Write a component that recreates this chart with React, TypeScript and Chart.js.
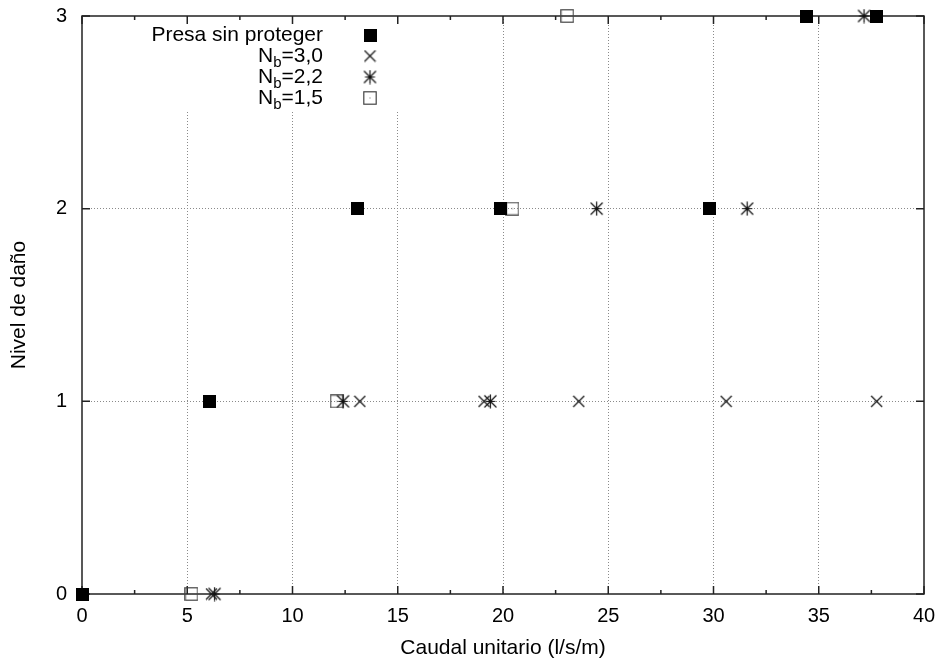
import React, { useEffect, useRef } from 'react';
import { Chart, registerables } from 'chart.js';

Chart.register(...registerables);

// ---- Data ----
const xTitle = 'Caudal unitario (l/s/m)';
const yTitle = 'Nivel de daño';
const xTickValues = [0, 5, 10, 15, 20, 25, 30, 35, 40];
const xMinorValues = [2.5, 7.5, 12.5, 17.5, 22.5, 27.5, 32.5, 37.5];
const yTickValues = [0, 1, 2, 3];

const seriesLabels = ['Presa sin proteger', 'N_b=3,0', 'N_b=2,2', 'N_b=1,5'];

const presaX = [0, 6.05, 13.1, 19.9, 29.8, 34.4, 37.75];
const presaY = [0, 1, 2, 2, 2, 3, 3];

const nb30X = [6.15, 13.2, 19.1, 23.6, 30.6, 37.75];
const nb30Y = [0, 1, 1, 1, 1, 1];

const nb22X = [6.3, 12.4, 19.4, 24.45, 31.6, 37.15];
const nb22Y = [0, 1, 1, 2, 2, 3];

const nb15X = [5.2, 12.1, 20.45, 23.05];
const nb15Y = [0, 1, 2, 3];

const FONT = "'Liberation Sans', Arial, Helvetica, sans-serif";

function makeCanvas(size: number, draw: (c: CanvasRenderingContext2D, s: number) => void) {
  const cv = document.createElement('canvas');
  cv.width = size;
  cv.height = size;
  const c = cv.getContext('2d')!;
  draw(c, size);
  return cv;
}

function makeStyles() {
  const filled = makeCanvas(13, (c, s) => {
    c.fillStyle = '#000';
    c.fillRect(0, 0, s, s);
  });
  const cross = makeCanvas(13, (c, s) => {
    c.strokeStyle = '#1a1a1a';
    c.lineWidth = 1.3;
    c.beginPath();
    c.moveTo(1, 1);
    c.lineTo(s - 1, s - 1);
    c.moveTo(s - 1, 1);
    c.lineTo(1, s - 1);
    c.stroke();
  });
  const star = makeCanvas(15, (c, s) => {
    c.strokeStyle = '#111';
    c.lineWidth = 1.2;
    const m = s / 2;
    c.beginPath();
    c.moveTo(1.5, 1.5);
    c.lineTo(s - 1.5, s - 1.5);
    c.moveTo(s - 1.5, 1.5);
    c.lineTo(1.5, s - 1.5);
    c.moveTo(m, 0.5);
    c.lineTo(m, s - 0.5);
    c.moveTo(2.5, m);
    c.lineTo(s - 2.5, m);
    c.stroke();
  });
  const open = makeCanvas(14, (c, s) => {
    c.strokeStyle = '#444';
    c.lineWidth = 1.2;
    c.strokeRect(0.8, 0.8, s - 1.6, s - 1.6);
    c.fillStyle = '#666';
    c.fillRect(s / 2 - 0.5, s / 2 - 0.5, 1, 1);
  });
  return [filled, cross, star, open];
}

function pts(xs: number[], ys: number[]) {
  return xs.map((x, i) => ({ x, y: ys[i] }));
}

export default function App() {
  const ref = useRef<HTMLCanvasElement | null>(null);

  useEffect(() => {
    document.body.style.margin = '0';
    document.body.style.overflow = 'hidden';
    const canvas = ref.current!;
    const styles = makeStyles();

    const framePlugin = {
      id: 'gnuFrame',
      beforeDatasetsDraw(chart: any) {
        const { ctx, chartArea: a, scales } = chart;
        const xs = scales.x;
        const ys = scales.y;
        ctx.save();
        // opaque key box area (hides grid behind legend)
        ctx.fillStyle = '#fff';
        ctx.fillRect(135, a.top + 1, 285, 95);
        // frame
        ctx.strokeStyle = '#222';
        ctx.lineWidth = 1.5;
        ctx.strokeRect(a.left, a.top, a.right - a.left, a.bottom - a.top);
        ctx.beginPath();
        xTickValues.forEach((v) => {
          const px = xs.getPixelForValue(v);
          ctx.moveTo(px, a.bottom);
          ctx.lineTo(px, a.bottom - 8);
          ctx.moveTo(px, a.top);
          ctx.lineTo(px, a.top + 8);
        });
        xMinorValues.forEach((v) => {
          const px = xs.getPixelForValue(v);
          ctx.moveTo(px, a.bottom);
          ctx.lineTo(px, a.bottom - 4);
          ctx.moveTo(px, a.top);
          ctx.lineTo(px, a.top + 4);
        });
        yTickValues.forEach((v) => {
          const py = ys.getPixelForValue(v);
          ctx.moveTo(a.left, py);
          ctx.lineTo(a.left + 8, py);
          ctx.moveTo(a.right, py);
          ctx.lineTo(a.right - 8, py);
        });
        ctx.stroke();
        ctx.restore();
      },
      afterDatasetsDraw(chart: any) {
        const { ctx } = chart;
        ctx.save();
        ctx.fillStyle = '#000';
        ctx.textBaseline = 'middle';
        const right = 323;
        const mx = 370;
        const big = `21px ${FONT}`;
        const small = `15px ${FONT}`;
        seriesLabels.forEach((lab, i) => {
          const y = 35 + i * 21;
          const m = lab.match(/^(.*)_(.)(.*)$/);
          ctx.textAlign = 'left';
          if (m) {
            ctx.font = big;
            const w1 = ctx.measureText(m[1]).width;
            const w3 = ctx.measureText(m[3]).width;
            ctx.font = small;
            const w2 = ctx.measureText(m[2]).width;
            let x = right - w1 - w2 - w3;
            ctx.font = big;
            ctx.fillText(m[1], x, y);
            x += w1;
            ctx.font = small;
            ctx.fillText(m[2], x, y + 7);
            x += w2;
            ctx.font = big;
            ctx.fillText(m[3], x, y);
          } else {
            ctx.font = big;
            ctx.textAlign = 'right';
            ctx.fillText(lab, right, y);
          }
          const img = styles[i];
          ctx.drawImage(img, mx - img.width / 2, y - img.height / 2);
        });
        ctx.restore();
      },
    };

    const gridColor = (edge: number[]) => (c: any) =>
      c.tick && edge.includes(c.tick.value) ? 'rgba(0,0,0,0)' : '#8a8a8a';

    const chart = new Chart(canvas, {
      type: 'scatter',
      data: {
        datasets: [
          { label: seriesLabels[0], data: pts(presaX, presaY), pointStyle: styles[0] as any, clip: false as any },
          { label: seriesLabels[1], data: pts(nb30X, nb30Y), pointStyle: styles[1] as any, clip: false as any },
          { label: seriesLabels[2], data: pts(nb22X, nb22Y), pointStyle: styles[2] as any, clip: false as any },
          { label: seriesLabels[3], data: pts(nb15X, nb15Y), pointStyle: styles[3] as any, clip: false as any },
        ],
      },
      options: {
        animation: false,
        responsive: false,
        maintainAspectRatio: false,
        layout: { padding: { top: 16, right: 20, left: 0, bottom: 0 } },
        plugins: {
          legend: { display: false },
          tooltip: { enabled: false },
        },
        scales: {
          x: {
            type: 'linear',
            min: 0,
            max: 40,
            afterBuildTicks: (s: any) => {
              s.ticks = xTickValues.map((v) => ({ value: v }));
            },
            afterFit: (s: any) => {
              s.height = 70;
              s.paddingLeft = 0;
              s.paddingRight = 0;
            },
            ticks: {
              padding: 10,
              color: '#000',
              font: { family: FONT, size: 20 },
              maxRotation: 0,
              autoSkip: false,
            },
            grid: {
              drawTicks: false,
              color: gridColor([0, 40]),
              lineWidth: 1,
            },
            border: { display: false, dash: [1, 2] },
            title: {
              display: true,
              text: xTitle,
              color: '#000',
              font: { family: FONT, size: 21 },
              padding: { top: 0, bottom: 3 },
            },
          },
          y: {
            type: 'linear',
            min: 0,
            max: 3,
            afterBuildTicks: (s: any) => {
              s.ticks = yTickValues.map((v) => ({ value: v }));
            },
            afterFit: (s: any) => {
              s.width = 82;
              s.paddingTop = 0;
              s.paddingBottom = 0;
            },
            ticks: {
              padding: 15,
              color: '#000',
              font: { family: FONT, size: 20 },
              autoSkip: false,
            },
            grid: {
              drawTicks: false,
              color: gridColor([0, 3]),
              lineWidth: 1,
            },
            border: { display: false, dash: [1, 2] },
            title: {
              display: true,
              text: yTitle,
              color: '#000',
              font: { family: FONT, size: 21 },
              padding: { top: 7, bottom: 0 },
            },
          },
        },
      },
      plugins: [framePlugin],
    });

    return () => chart.destroy();
  }, []);

  return (
    <div style={{ width: 944, height: 664, background: '#fff' }}>
      <canvas ref={ref} width={944} height={664} style={{ display: 'block' }} />
    </div>
  );
}
